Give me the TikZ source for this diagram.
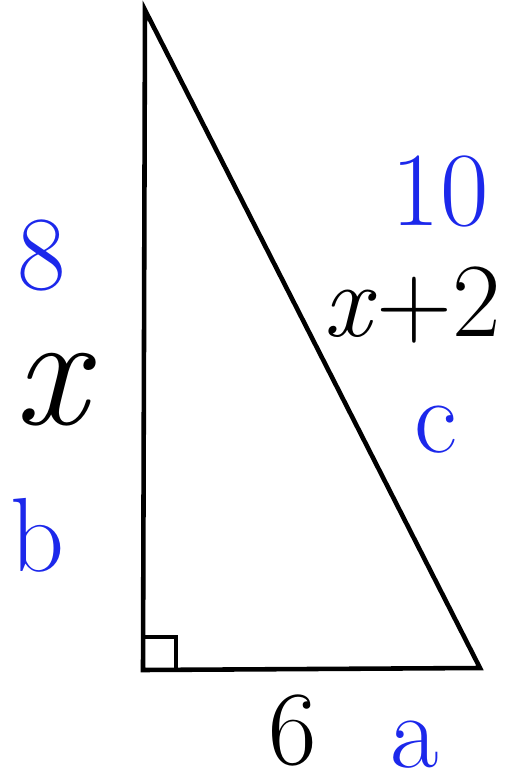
\documentclass[tikz,border=0pt]{standalone}
\usepackage{tikz}
\definecolor{inkblue}{RGB}{28,40,235}
\newcommand{\bigtxt}{\fontsize{60}{60}\selectfont}
\newcommand{\hugetxt}{\fontsize{92}{92}\selectfont}

\begin{document}
\begin{tikzpicture}[x=0.02cm, y=-0.02cm,
  side/.style={line width=2.6pt, line join=miter},
  lbl/.style={font=\bigtxt, inner sep=0pt},
  val/.style={lbl, text=inkblue}]
\useasboundingbox (0,0) rectangle (509,780);
\coordinate (top) at (145,10);
\coordinate (corner) at (143,670);
\coordinate (right) at (480,668);
\draw[side] (top) -- (corner) -- (right) -- cycle;
\draw[line width=2pt] ([yshift=0.66cm]corner) -| ([xshift=0.66cm]corner);
% labels of the vertical side
\node[val] (eight) at (42,256) {8};
\node[lbl, font=\hugetxt] (xleft) at (55,390) {\textit{x}};
\node[val] (bside) at (37,535) {b};
% labels of the slanted side
\node[val] (ten) at (440,192) {10};
\node[lbl] (xplus) at (412,305) {\textit{x}+2};
\node[val] (cside) at (436,430) {c};
% labels of the bottom side
\node[lbl] (six) at (293,730) {6};
\node[val] (aside) at (415,745) {a};
\end{tikzpicture}
\end{document}
